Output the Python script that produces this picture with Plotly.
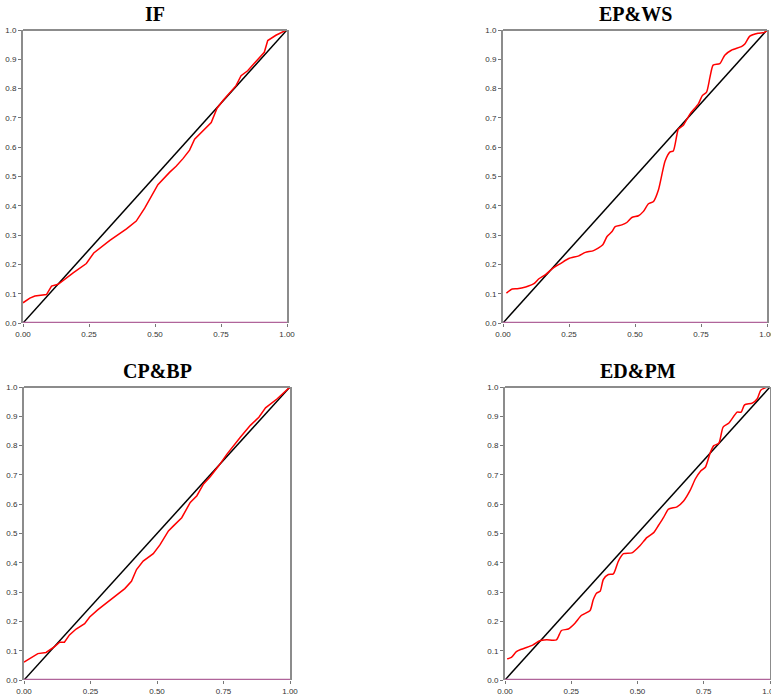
import plotly.graph_objects as go

titles = ["IF", "EP&WS", "CP&BP", "ED&PM"]

if_x = [0.0, 0.026, 0.045, 0.089, 0.108, 0.133, 0.19, 0.24, 0.268, 0.329, 0.392, 0.429, 0.461, 0.499, 0.511, 0.555, 0.58, 0.606, 0.631, 0.65, 0.681, 0.713, 0.735, 0.759, 0.807, 0.826, 0.851, 0.885, 0.914, 0.927, 0.958, 0.996, 1.0]
if_y = [0.069, 0.085, 0.092, 0.097, 0.126, 0.132, 0.171, 0.203, 0.239, 0.282, 0.321, 0.348, 0.392, 0.452, 0.472, 0.514, 0.535, 0.561, 0.590, 0.627, 0.655, 0.684, 0.733, 0.761, 0.81, 0.844, 0.861, 0.896, 0.924, 0.964, 0.982, 0.999, 1.0]

ep_x = [0.013, 0.035, 0.054, 0.086, 0.117, 0.136, 0.161, 0.186, 0.218, 0.249, 0.287, 0.312, 0.343, 0.377, 0.394, 0.413, 0.425, 0.450, 0.469, 0.488, 0.513, 0.532, 0.551, 0.570, 0.589, 0.614, 0.633, 0.645, 0.658, 0.664, 0.683, 0.708, 0.74, 0.755, 0.771, 0.784, 0.796, 0.821, 0.840, 0.865, 0.903, 0.916, 0.935, 0.966, 0.991, 1.0]
ep_y = [0.102, 0.116, 0.117, 0.123, 0.134, 0.151, 0.165, 0.185, 0.203, 0.220, 0.229, 0.241, 0.247, 0.266, 0.295, 0.312, 0.329, 0.335, 0.343, 0.360, 0.366, 0.381, 0.407, 0.415, 0.455, 0.553, 0.584, 0.587, 0.639, 0.662, 0.675, 0.713, 0.748, 0.776, 0.788, 0.839, 0.880, 0.885, 0.914, 0.931, 0.943, 0.952, 0.979, 0.989, 0.992, 1.0]

cp_x = [0.0, 0.026, 0.052, 0.083, 0.115, 0.134, 0.152, 0.171, 0.196, 0.228, 0.247, 0.278, 0.310, 0.348, 0.379, 0.404, 0.423, 0.448, 0.486, 0.511, 0.543, 0.562, 0.593, 0.625, 0.650, 0.675, 0.700, 0.732, 0.763, 0.814, 0.851, 0.883, 0.908, 0.952, 1.0]
cp_y = [0.061, 0.077, 0.090, 0.094, 0.114, 0.129, 0.129, 0.154, 0.174, 0.192, 0.215, 0.240, 0.263, 0.289, 0.312, 0.337, 0.377, 0.406, 0.431, 0.461, 0.509, 0.526, 0.554, 0.606, 0.629, 0.669, 0.694, 0.731, 0.771, 0.829, 0.869, 0.897, 0.929, 0.960, 1.0]

ed_x = [0.008, 0.024, 0.043, 0.062, 0.081, 0.106, 0.131, 0.157, 0.194, 0.213, 0.239, 0.264, 0.289, 0.321, 0.333, 0.346, 0.359, 0.371, 0.390, 0.409, 0.428, 0.447, 0.479, 0.510, 0.535, 0.561, 0.580, 0.598, 0.617, 0.649, 0.674, 0.699, 0.718, 0.737, 0.756, 0.775, 0.788, 0.807, 0.823, 0.845, 0.876, 0.891, 0.904, 0.933, 0.952, 0.965, 0.984, 0.996]
ed_y = [0.072, 0.077, 0.097, 0.105, 0.111, 0.120, 0.134, 0.137, 0.137, 0.169, 0.174, 0.194, 0.221, 0.237, 0.274, 0.297, 0.303, 0.343, 0.360, 0.362, 0.406, 0.431, 0.434, 0.459, 0.486, 0.503, 0.529, 0.554, 0.583, 0.591, 0.611, 0.648, 0.686, 0.712, 0.726, 0.777, 0.800, 0.808, 0.863, 0.877, 0.914, 0.914, 0.939, 0.945, 0.960, 0.989, 0.998, 1.0]

diag = [0.0, 1.0]
x_ticks = [0.0, 0.25, 0.5, 0.75, 1.0]
y_ticks = [0.0, 0.1, 0.2, 0.3, 0.4, 0.5, 0.6, 0.7, 0.8, 0.9, 1.0]

series = [(if_x, if_y), (ep_x, ep_y), (cp_x, cp_y), (ed_x, ed_y)]
smooth = [False, True, False, True]

W, H = 771, 697
# pixel boxes (left, right, top, bottom)
boxes = [(23, 287, 30, 323), (503, 767, 30, 323), (24, 290, 387, 680), (505, 770, 387, 680)]

fig = go.Figure()
layout = dict(width=W, height=H, margin=dict(l=0, r=0, t=0, b=0, autoexpand=False),
              paper_bgcolor="white", plot_bgcolor="white", showlegend=False)
shapes = []
annotations = []
for i, ((sx, sy), (l, r, t, b), title, sm) in enumerate(zip(series, boxes, titles, smooth)):
    n = "" if i == 0 else str(i + 1)
    xa, ya = "x" + n, "y" + n
    fig.add_trace(go.Scatter(x=diag, y=diag, mode="lines", xaxis=xa, yaxis=ya,
                             line=dict(color="black", width=1.5), hoverinfo="skip"))
    line = dict(color="#ff0000", width=1.5)
    if sm:
        line.update(shape="spline", smoothing=0.6)
    fig.add_trace(go.Scatter(x=sx, y=sy, mode="lines", xaxis=xa, yaxis=ya, line=line))
    fig.add_trace(go.Scatter(x=diag, y=[0, 0], mode="lines", xaxis=xa, yaxis=ya,
                             line=dict(color="#b0649a", width=2.5), hoverinfo="skip"))
    axfont = dict(family="Liberation Sans, Arial", size=8, color="#333333")
    layout["xaxis" + n] = dict(domain=[l / W, r / W], range=[0, 1], anchor=ya, automargin=False,
                               tickvals=x_ticks, tickformat=".2f", ticks="outside", ticklen=3,
                               tickcolor="#777777", showgrid=False, zeroline=False,
                               ticklabeloverflow="allow",
                               showline=False, tickfont=axfont, fixedrange=True)
    layout["yaxis" + n] = dict(domain=[1 - b / H, 1 - t / H], range=[0, 1], anchor=xa, automargin=False,
                               tickvals=y_ticks, tickformat=".1f", ticks="outside", ticklen=3,
                               tickcolor="#777777", showgrid=False, zeroline=False,
                               ticklabeloverflow="allow",
                               showline=True, linecolor="#8c8c8c", linewidth=2, mirror=True,
                               tickfont=axfont, fixedrange=True)
    shapes.append(dict(type="line", xref="paper", yref="paper", x0=l / W, x1=r / W,
                       y0=1 - t / H, y1=1 - t / H, line=dict(color="#8c8c8c", width=2)))
    annotations.append(dict(text="<b>" + title.replace("&", "&amp;") + "</b>", xref="paper", yref="paper",
                            x=(l + r) / 2 / W, y=1 - (t - 16) / H, showarrow=False,
                            xanchor="center", yanchor="middle",
                            font=dict(family="Liberation Serif, Times New Roman", size=20, color="black")))
layout["shapes"] = shapes
layout["annotations"] = annotations
fig.update_layout(**layout)
fig.write_html("out.html", config={"displayModeBar": False},
               post_script="document.body.style.margin='0px';document.body.style.overflow='hidden';")
